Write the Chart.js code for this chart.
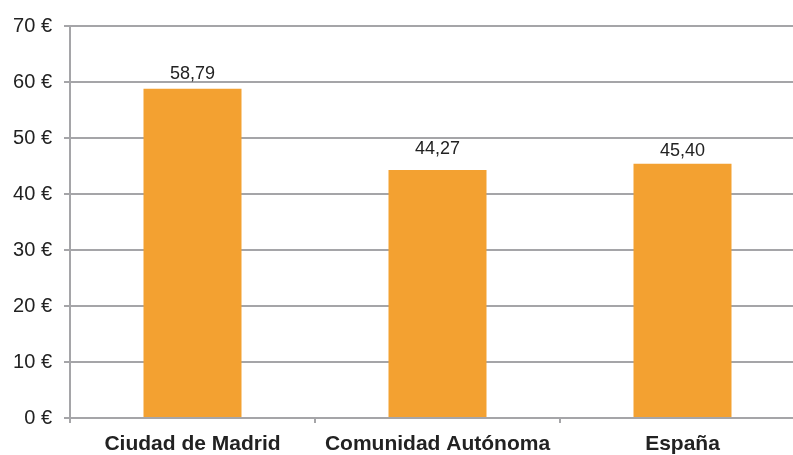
<!DOCTYPE html>
<html>
<head>
<meta charset="utf-8">
<script src="https://cdn.jsdelivr.net/npm/chart.js@4"></script>
<style>
	html, body { margin: 0; padding: 0; overflow: hidden; background: #fff; }
	#wrap { width: 806px; height: 455px; }
</style>
</head>
<body>
<div id="wrap"><canvas id="main_chart"></canvas></div>
<script>
const categories = ["Ciudad de Madrid", "Comunidad Autónoma", "España"];
const values = [58.79, 44.27, 45.40];
const yTicks = [0, 10, 20, 30, 40, 50, 60, 70];

const gridColor = "#a5a5a8";
const textColor = "#222222";
// gap between bar top and its value label, as in the original
const labelGap = [15, 21, 13];

const barLabels = {
	id: 'barLabels',
	afterDatasetsDraw(chart) {
		const c = chart.ctx;
		const meta = chart.getDatasetMeta(0);
		c.save();
		c.font = '18px "Liberation Sans", Arial, sans-serif';
		c.fillStyle = textColor;
		c.textAlign = 'center';
		c.textBaseline = 'middle';
		meta.data.forEach((bar, i) => {
			c.fillText(values[i].toFixed(2).replace('.', ','), bar.x, bar.y - labelGap[i]);
		});
		c.restore();
	}
};

new Chart(document.getElementById('main_chart'), {
	type: 'bar',
	data: {
		labels: categories,
		datasets: [{
			data: values,
			backgroundColor: "#F3A131",
			barPercentage: 0.4,
			categoryPercentage: 1,
		}],
	},
	options: {
		responsive: true,
		maintainAspectRatio: false,
		animation: false,
		layout: { padding: { top: 26, left: 0, right: 1, bottom: 0 } },
		plugins: {
			legend: { display: false },
			tooltip: { enabled: false },
		},
		scales: {
			y: {
				min: 0,
				max: 70,
				afterFit(scale) { scale.width = 70; },
				afterBuildTicks(scale) { scale.ticks = yTicks.map(v => ({ value: v })); },
				grid: {
					color: gridColor,
					lineWidth: 2,
					tickLength: 6,
				},
				border: { color: gridColor, width: 2 },
				ticks: {
					color: textColor,
					padding: 12,
					font: { size: 20, family: '"Liberation Sans", Arial, sans-serif' },
					callback: v => v + ' €',
				},
			},
			x: {
				afterFit(scale) { scale.height = 37; },
				grid: {
					color: gridColor,
					lineWidth: 2,
					drawOnChartArea: false,
					tickLength: 5,
				},
				border: { color: gridColor, width: 2 },
				ticks: {
					color: textColor,
					padding: 9,
					maxRotation: 0,
					font: { size: 21, weight: 'bold', family: '"Liberation Sans", Arial, sans-serif' },
				},
			},
		},
	},
	plugins: [barLabels],
});
</script>
</body>
</html>
